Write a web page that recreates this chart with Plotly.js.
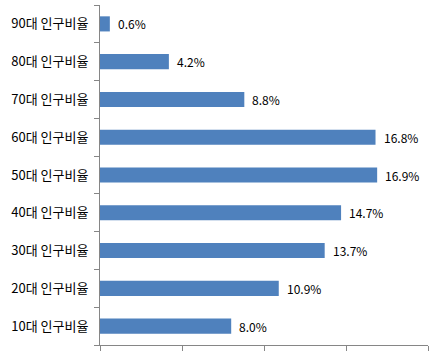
<!DOCTYPE html>
<html><head><meta charset="utf-8">
<script src="https://cdn.plot.ly/plotly-3.0.1.min.js"></script>
<style>html,body{margin:0;padding:0;background:#fff}#c{width:444px;height:355px}</style>
</head><body><div id="c"></div>
<script>
const categories = ["10대 인구비율","20대 인구비율","30대 인구비율","40대 인구비율","50대 인구비율","60대 인구비율","70대 인구비율","80대 인구비율","90대 인구비율"];
const values = [8.0, 10.9, 13.7, 14.7, 16.9, 16.8, 8.8, 4.2, 0.6];
const labels = values.map(v => v.toFixed(1) + "%");

const font = "Noto Sans CJK KR, Noto Sans, sans-serif";
const annotations = values.map((v, i) => ({
  x: v, y: categories[i], xref: "x", yref: "y", text: labels[i],
  showarrow: false, xanchor: "left", xshift: 6,
  font: {family: font, size: 12, color: "#000"}
}));

Plotly.newPlot("c", [{
  type: "bar", orientation: "h", x: values, y: categories,
  marker: {color: "#4F81BD"}, width: 0.4, hoverinfo: "none"
}], {
  width: 444, height: 355,
  margin: {l: 100, r: 16, t: 5, b: 10},
  paper_bgcolor: "#fff", plot_bgcolor: "#fff",
  showlegend: false,
  xaxis: {range: [0, 20], dtick: 5, showticklabels: false, ticks: "outside", ticklen: 5,
          tickcolor: "#868686", showgrid: false, zeroline: false, showline: true,
          linecolor: "#868686", linewidth: 1, fixedrange: true},
  yaxis: {type: "category", categoryorder: "array", categoryarray: categories,
          ticks: "outside", ticklen: 5, tickcolor: "#868686", tickson: "boundaries",
          showline: true, linecolor: "#868686", linewidth: 1, showgrid: false,
          ticklabelstandoff: 8,
          tickfont: {family: font, size: 13, color: "#000"}, fixedrange: true},
  annotations: annotations
}, {displayModeBar: false, staticPlot: true});
</script></body></html>
